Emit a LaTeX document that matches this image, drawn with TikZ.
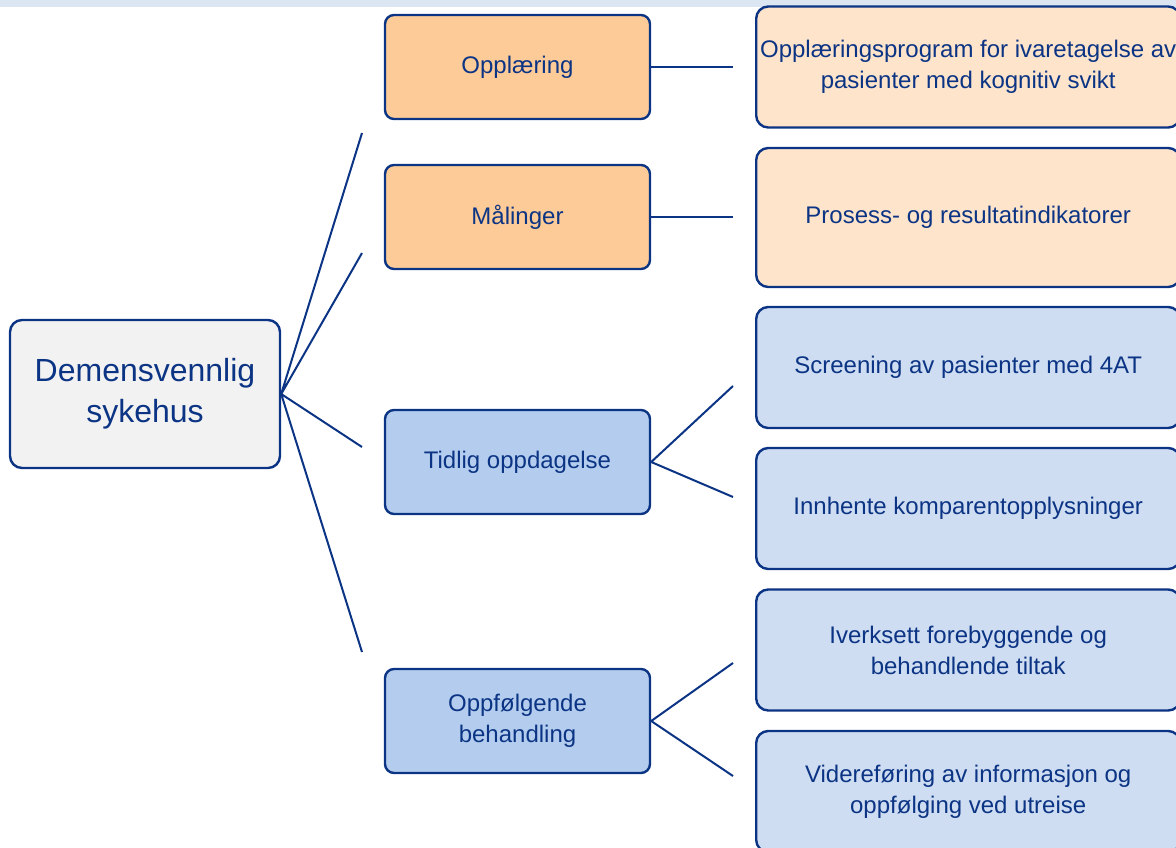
\documentclass[tikz,border=0pt]{standalone}
\usepackage{fontspec}
\setmainfont{Liberation Sans}
\usepackage{tikz}

\definecolor{navyline}{RGB}{12,52,132}
\definecolor{bandblue}{RGB}{220,230,242}
\definecolor{rootgray}{RGB}{242,242,242}
\definecolor{midorange}{RGB}{252,203,152}
\definecolor{sideorange}{RGB}{253,228,203}
\definecolor{midblue}{RGB}{180,205,238}
\definecolor{sideblue}{RGB}{206,221,242}

\begin{document}
\begin{tikzpicture}[x=1pt, y=-1pt,
    box/.style={draw=navyline, line width=2.4pt, text=navyline, align=center,
        inner sep=2pt, font=\fontsize{24}{31}\selectfont},
    rootbox/.style={box, fill=rootgray, rounded corners=12pt, minimum width=270pt,
        minimum height=148pt, font=\fontsize{32}{41}\selectfont},
    midbox/.style={box, rounded corners=9pt, minimum width=265pt, minimum height=104pt},
    sidebox/.style={box, rounded corners=12pt, minimum width=424pt, minimum height=121pt},
    link/.style={navyline, line width=2pt}]

    \useasboundingbox (0,0) rectangle (1176,848);

    \fill[bandblue] (0,0) rectangle (1176,7);

    \node[rootbox] (root) at (145,394) {Demensvennlig\\sykehus};

    \node[midbox, fill=midorange] (opl) at (517.5,67) {Oppl\ae ring};
    \node[midbox, fill=midorange] (mal) at (517.5,217) {M\aa linger};
    \node[midbox, fill=midblue] (tid) at (517.5,462) {Tidlig oppdagelse};
    \node[midbox, fill=midblue] (oppf) at (517.5,721) {Oppf\o lgende\\behandling};

    \node[sidebox, fill=sideorange, anchor=west] (opl1) at (755,67)
        {Oppl\ae ringsprogram for ivaretagelse av\\pasienter med kognitiv svikt};
    \node[sidebox, fill=sideorange, anchor=west, minimum height=139pt] (mal1) at (755,217.5)
        {Prosess- og resultatindikatorer};
    \node[sidebox, fill=sideblue, anchor=west] (tid1) at (755,367.5)
        {Screening av pasienter med 4AT};
    \node[sidebox, fill=sideblue, anchor=west] (tid2) at (755,508.5)
        {Innhente komparentopplysninger};
    \node[sidebox, fill=sideblue, anchor=west] (oppf1) at (755,650)
        {Iverksett forebyggende og\\behandlende tiltak};
    \node[sidebox, fill=sideblue, anchor=west] (oppf2) at (755,791.5)
        {Videref\o ring av informasjon og\\oppf\o lging ved utreise};

    % free ends of the connectors
    \coordinate (toOpl) at (362,133);
    \coordinate (toMal) at (362,253);
    \coordinate (toTid) at (362,447);
    \coordinate (toOppf) at (362,652);
    \coordinate (toOpl1) at (733,67);
    \coordinate (toMal1) at (733,217);
    \coordinate (toTid1) at (733,386);
    \coordinate (toTid2) at (733,497);
    \coordinate (toOppf1) at (733,663);
    \coordinate (toOppf2) at (733,776);

    \draw[link] (root.east) -- (toOpl)
        (root.east) -- (toMal)
        (root.east) -- (toTid)
        (root.east) -- (toOppf);
    \draw[link] (opl.east) -- (toOpl1)
        (mal.east) -- (toMal1);
    \draw[link] (tid.east) -- (toTid1)
        (tid.east) -- (toTid2);
    \draw[link] (oppf.east) -- (toOppf1)
        (oppf.east) -- (toOppf2);

\end{tikzpicture}
\end{document}
